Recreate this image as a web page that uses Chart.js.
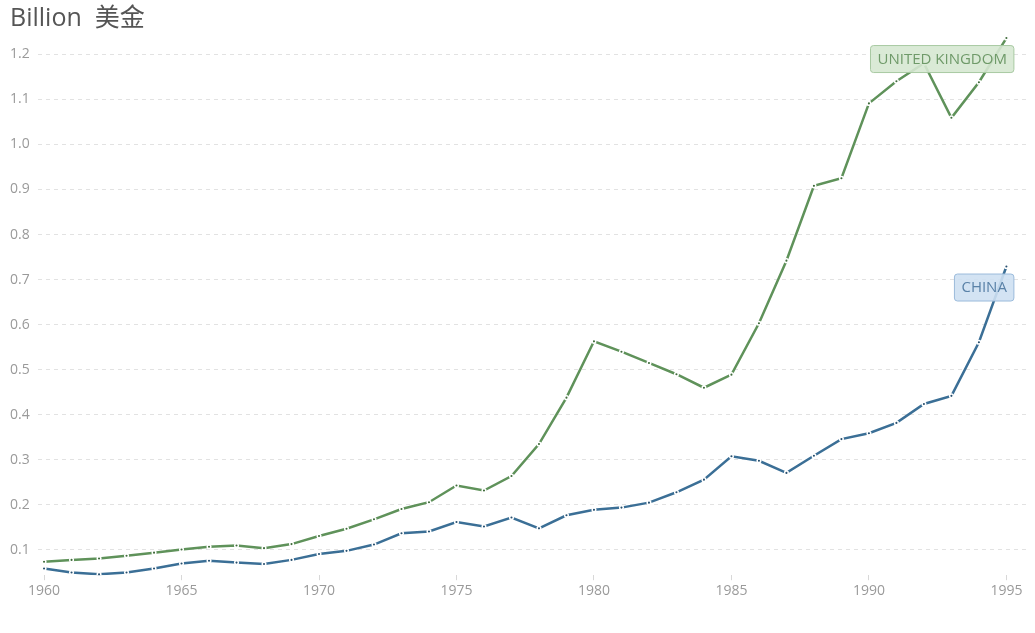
<!DOCTYPE html>
<html>
<head>
<meta charset="utf-8">
<style>
    html, body { margin: 0; padding: 0; background: #fff; }
    #wrap { width: 1035px; height: 633px; position: relative; }
</style>
</head>
<body>
<div id="wrap">
    <canvas id="myChart"></canvas>
</div>

<script src="https://cdn.jsdelivr.net/npm/chart.js"></script>

<script>
    // 연도
    var years = [];
    for (var y = 1960; y <= 1995; y++) years.push(y);

    var xTicks = [1960, 1965, 1970, 1975, 1980, 1985, 1990, 1995];
    var yTicks = [0.1, 0.2, 0.3, 0.4, 0.5, 0.6, 0.7, 0.8, 0.9, 1.0, 1.1, 1.2];

    var ukValues = [
        0.074, 0.078, 0.081, 0.087, 0.094, 0.101, 0.107, 0.110, 0.104, 0.113,
        0.131, 0.147, 0.168, 0.191, 0.206, 0.243, 0.232, 0.264, 0.335, 0.438,
        0.563, 0.540, 0.515, 0.490, 0.460, 0.489, 0.603, 0.742, 0.908, 0.925,
        1.091, 1.140, 1.180, 1.059, 1.138, 1.236
    ];
    var chinaValues = [
        0.059, 0.050, 0.046, 0.050, 0.059, 0.070, 0.076, 0.072, 0.069, 0.078,
        0.091, 0.098, 0.112, 0.137, 0.141, 0.162, 0.152, 0.172, 0.148, 0.177,
        0.189, 0.194, 0.205, 0.228, 0.256, 0.308, 0.298, 0.271, 0.309, 0.346,
        0.359, 0.382, 0.424, 0.442, 0.561, 0.729
    ];

    var seriesNames = ['UNITED KINGDOM', 'CHINA'];

    function pts(values) {
        return values.map(function (v, i) { return { x: years[i], y: v }; });
    }

    // 마지막 점 아래 라벨 박스
    var endLabels = {
        id: 'endLabels',
        afterDatasetsDraw: function (chart) {
            var ctx = chart.ctx;
            var styles = [
                { fill: 'rgba(214,232,210,0.9)', stroke: '#a8c9a2', text: '#6f9a69' },
                { fill: 'rgba(206,224,242,0.9)', stroke: '#9bbbdb', text: '#5a82a8' }
            ];
            chart.data.datasets.forEach(function (ds, i) {
                var meta = chart.getDatasetMeta(i);
                var last = meta.data[meta.data.length - 1];
                ctx.save();
                ctx.font = '15px "Open Sans", sans-serif';
                var w = ctx.measureText(ds.label).width + 14;
                var h = 27;
                var right = last.x + 7;
                var top = last.y + 7;
                ctx.fillStyle = styles[i].fill;
                ctx.strokeStyle = styles[i].stroke;
                ctx.lineWidth = 1;
                ctx.beginPath();
                ctx.roundRect(right - w + 0.5, top + 0.5, w, h, 3);
                ctx.fill();
                ctx.stroke();
                ctx.fillStyle = styles[i].text;
                ctx.textAlign = 'center';
                ctx.textBaseline = 'middle';
                ctx.fillText(ds.label, right - w / 2 + 0.5, top + h / 2 + 1);
                ctx.restore();
            });
        }
    };

    const ctx = document.getElementById('myChart');

    new Chart(ctx, {
        type: 'line',
        data: {
            datasets: [{
                label: seriesNames[0],
                data: pts(ukValues),
                borderColor: '#5f925a',
                borderWidth: 2.5,
                pointRadius: 1.8,
                pointBackgroundColor: '#3f6b3b',
                pointBorderColor: '#ffffff',
                pointBorderWidth: 1.5,
                tension: 0
            }, {
                label: seriesNames[1],
                data: pts(chinaValues),
                borderColor: '#3b6f96',
                borderWidth: 2.5,
                pointRadius: 1.8,
                pointBackgroundColor: '#274f6e',
                pointBorderColor: '#ffffff',
                pointBorderWidth: 1.5,
                tension: 0
            }]
        },
        options: {
            responsive: true,
            maintainAspectRatio: false,
            animation: false,
            layout: { padding: { left: 10, right: 0, top: 0, bottom: 32 } },
            scales: {
                x: {
                    type: 'linear',
                    min: 1959.78,
                    max: 1995.84,
                    afterBuildTicks: function (scale) {
                        scale.ticks = xTicks.map(function (v) { return { value: v }; });
                    },
                    grid: {
                        drawOnChartArea: false,
                        drawTicks: true,
                        tickLength: 5,
                        color: '#d8d8d8'
                    },
                    border: { display: false },
                    ticks: {
                        color: '#9a9a9a',
                        font: { family: '"Open Sans", sans-serif', size: 14 },
                        padding: 2,
                        maxRotation: 0,
                        callback: function (v) { return String(v); }
                    }
                },
                y: {
                    min: 0.044,
                    max: 1.245,
                    afterBuildTicks: function (scale) {
                        scale.ticks = yTicks.map(function (v) { return { value: v }; });
                    },
                    afterFit: function (scale) { scale.width = 28; },
                    grid: {
                        color: '#e2e2e2',
                        drawTicks: false
                    },
                    border: { display: false, dash: [4, 4] },
                    ticks: {
                        color: '#9a9a9a',
                        font: { family: '"Open Sans", sans-serif', size: 14 },
                        crossAlign: 'far',
                        padding: 0,
                        callback: function (v) { return v.toFixed(1); }
                    }
                }
            },
            plugins: {
                legend: { display: false },
                tooltip: { enabled: false },
                title: {
                    display: true,
                    text: 'Billion  美金',
                    align: 'start',
                    color: '#555555',
                    font: { family: '"Open Sans", "Noto Sans CJK SC", sans-serif', size: 25, weight: 'normal' },
                    padding: { top: 4, bottom: 0 },
                    fullSize: true
                }
            }
        },
        plugins: [endLabels]
    });
</script>
</body>
</html>
